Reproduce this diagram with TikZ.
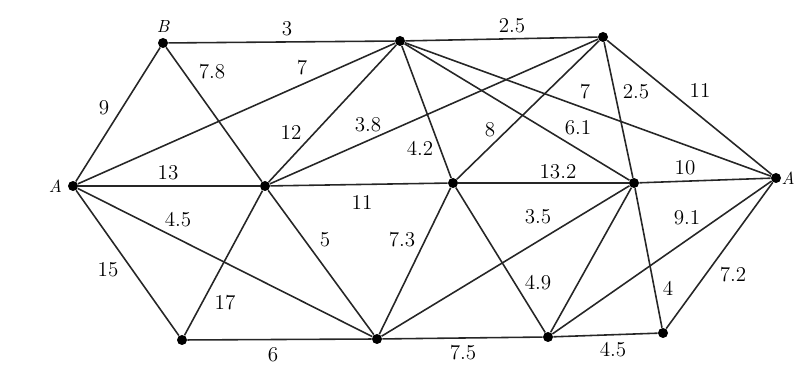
\documentclass[tikz,border=0pt]{standalone}
\usepackage{tikz}
\usetikzlibrary{positioning}
\tikzset{
  vert/.style  = {circle, fill=black, minimum size=2mm, inner sep=0pt},
  link/.style  = {line width=0.9pt, black!85},
  wlab/.style  = {font=\large, inner sep=1pt},
  vlab/.style  = {font=\normalsize\itshape, inner sep=0pt},
}

\begin{document}
\begin{tikzpicture}[x=0.02cm, y=-0.02cm]
\useasboundingbox (0,0) rectangle (795,374);
% vertices
\node[vert] (a) at (73,186)  {};
\node[vert] (b) at (163,43)  {};
\node[vert] (c) at (400,41)  {};
\node[vert] (d) at (603,37)  {};
\node[vert] (e) at (265,186) {};
\node[vert] (f) at (453,183) {};
\node[vert] (g) at (634,183) {};
\node[vert] (h) at (776,178) {};
\node[vert] (i) at (182,340) {};
\node[vert] (j) at (377,339) {};
\node[vert] (k) at (548,337) {};
\node[vert] (l) at (663,333) {};
\node[vlab, left=3pt of a]  (la) {A};
\node[vlab, above=3pt of b] (lb) {B};
\node[vlab, right=0pt of h] (lh) {A};
% edges with weights
\foreach \u/\v/\w/\lx/\ly in {
    a/b/9/104/108, b/c/3/287/29, c/d/2.5/512/26, b/e/7.8/212/72,
    a/c/7/302/68, a/e/13/168/173, e/c/12/291/132, e/d/3.8/368/125,
    c/f/4.2/420/148, f/d/8/490/130, c/g/6.1/578/128, c/h/7/585/92,
    d/g/2.5/636/92, d/h/11/700/90, e/f/11/362/202, f/g/13.2/558/172,
    g/h/10/685/168, a/j/4.5/178/220, a/i/15/108/270, e/i/17/225/303,
    i/j/6/273/355, e/j/5/325/240, f/j/7.3/402/240, j/g/3.5/538/217,
    j/k/7.5/463/353, f/k/4.9/538/283, k/h/9.1/687/218, g/l/4/668/288,
    l/h/7.2/733/275, k/l/4.5/613/350} {
  \draw[link] (\u) -- (\v);
  \node[wlab] at (\lx,\ly) {\w};
}
\draw[link] (k) -- (g);
\end{tikzpicture}
\end{document}
